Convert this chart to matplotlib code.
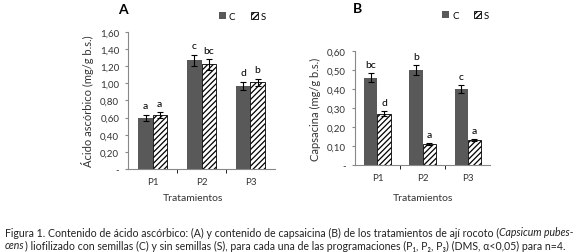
import numpy as np
from matplotlib import pyplot as plt

plt.rcParams['font.family'] = ['Lato', 'DejaVu Sans']
plt.rcParams['hatch.linewidth'] = 0.9

# data
treatments = ['P1', 'P2', 'P3']
series = ['C', 'S']

acid_c = [0.60, 1.27, 0.97]
acid_s = [0.63, 1.22, 1.01]
acid_c_err = [0.035, 0.065, 0.05]
acid_s_err = [0.03, 0.06, 0.045]
acid_c_letters = ['a', 'c', 'd']
acid_s_letters = ['a', 'bc', 'b']
acid_ticks = [0.2, 0.4, 0.6, 0.8, 1.0, 1.2, 1.4, 1.6]

caps_c = [0.46, 0.50, 0.40]
caps_s = [0.27, 0.11, 0.13]
caps_c_err = [0.025, 0.025, 0.02]
caps_s_err = [0.012, 0.004, 0.006]
caps_c_letters = ['bc', 'b', 'c']
caps_s_letters = ['d', 'a', 'a']
caps_ticks = [0.1, 0.2, 0.3, 0.4, 0.5, 0.6]

DARK = '#595959'


def draw_panel(ax, c_vals, s_vals, c_err, s_err, c_let, s_let, ticks,
               ylabel, title, legend_anchor, title_xy, fig):
    x = np.arange(len(treatments))
    w = 0.29
    ax.bar(x - w / 2, c_vals, w, color=DARK, label=series[0])
    ax.bar(x + w / 2, s_vals, w, color='white', edgecolor='black',
           hatch='//////', linewidth=0.6, label=series[1])
    ax.errorbar(x - w / 2, c_vals, yerr=c_err, fmt='none', ecolor='black',
                elinewidth=0.8, capsize=2.2, capthick=0.8)
    ax.errorbar(x + w / 2, s_vals, yerr=s_err, fmt='none', ecolor='black',
                elinewidth=0.8, capsize=2.2, capthick=0.8)
    top = ticks[-1]
    off = top * 0.035
    for i in range(len(x)):
        ax.text(x[i] - w / 2, c_vals[i] + c_err[i] + off, c_let[i],
                ha='center', va='bottom', fontsize=7.5)
        ax.text(x[i] + w / 2, s_vals[i] + s_err[i] + off, s_let[i],
                ha='center', va='bottom', fontsize=7.5)
    ax.set_xlim(-0.5, len(x) - 0.5)
    ax.set_ylim(0, top)
    ax.set_yticks([0] + ticks)
    ax.set_yticklabels(['-'] + [('%.2f' % t).replace('.', ',') for t in ticks])
    ax.set_xticks(x)
    ax.set_xticklabels(treatments)
    ax.set_xticks([0.5, 1.5], minor=True)
    ax.tick_params(axis='x', which='major', length=0, labelsize=7, pad=6)
    ax.tick_params(axis='x', which='minor', length=3, direction='out')
    ax.tick_params(axis='y', length=2.5, labelsize=7, pad=4)
    for s in ['top', 'right']:
        ax.spines[s].set_visible(False)
    for s in ['left', 'bottom']:
        ax.spines[s].set_color('#888888')
        ax.spines[s].set_linewidth(0.8)
    ax.tick_params(colors='#888888', labelcolor='#333333')
    ax.set_ylabel(ylabel, fontsize=8, color='#333333', labelpad=4)
    ax.legend(loc='center', bbox_to_anchor=legend_anchor, ncol=2,
              frameon=False, fontsize=7, handlelength=0.7,
              handleheight=0.7, handletextpad=0.3, columnspacing=1.6,
              borderpad=0)
    fig.text(title_xy[0], title_xy[1], title, fontsize=10, fontweight='bold',
             ha='center', va='center')


def caption_line(fig, y, pieces, size):
    # pieces: list of (text, style); laid out left to right
    renderer = fig.canvas.get_renderer()
    x = 5 / 580
    fw = fig.get_figwidth() * fig.dpi
    for txt, style in pieces:
        t = fig.text(x, y, txt, ha='left', va='center', fontsize=size,
                     style=style, color='#222222')
        x += t.get_window_extent(renderer).width / fw


fig = plt.figure(figsize=(5.8, 2.53), dpi=100)
ax_a = fig.add_axes([0.221, 0.328, 0.253, 0.542])
ax_b = fig.add_axes([0.612, 0.344, 0.233, 0.450])

draw_panel(ax_a, acid_c, acid_s, acid_c_err, acid_s_err, acid_c_letters,
           acid_s_letters, acid_ticks, 'Ácido ascórbico (mg/g b.s.)', 'A',
           (0.78, 1.115), (123 / 580, 1 - 10 / 253), fig)
draw_panel(ax_b, caps_c, caps_s, caps_c_err, caps_s_err, caps_c_letters,
           caps_s_letters, caps_ticks, 'Capsacina (mg/g b.s.)', 'B',
           (0.82, 1.315), (358 / 580, 1 - 9 / 253), fig)

fig.text(193 / 580, 1 - 199 / 253, 'Tratamientos', ha='center', va='center',
         fontsize=7.5, color='#333333')
fig.text(423 / 580, 1 - 199 / 253, 'Tratamientos', ha='center', va='center',
         fontsize=7.5, color='#333333')

cap_size = 7.6
caption_line(fig, 1 - 233 / 253, [
    ('Figura 1. Contenido de ácido ascórbico: (A) y contenido de capsaicina (B) '
     'de los tratamientos de ají rocoto (', 'normal'),
    ('Capsicum pubes-', 'italic')], cap_size)
caption_line(fig, 1 - 246 / 253, [
    ('cens', 'italic'),
    (') liofilizado con semillas (C) y sin semillas (S), para cada una '
     'de las programaciones (P₁, P₂, P₃) (DMS, α<0,05) para n=4.', 'normal')],
    cap_size)

fig.savefig('out.png', dpi=100)
